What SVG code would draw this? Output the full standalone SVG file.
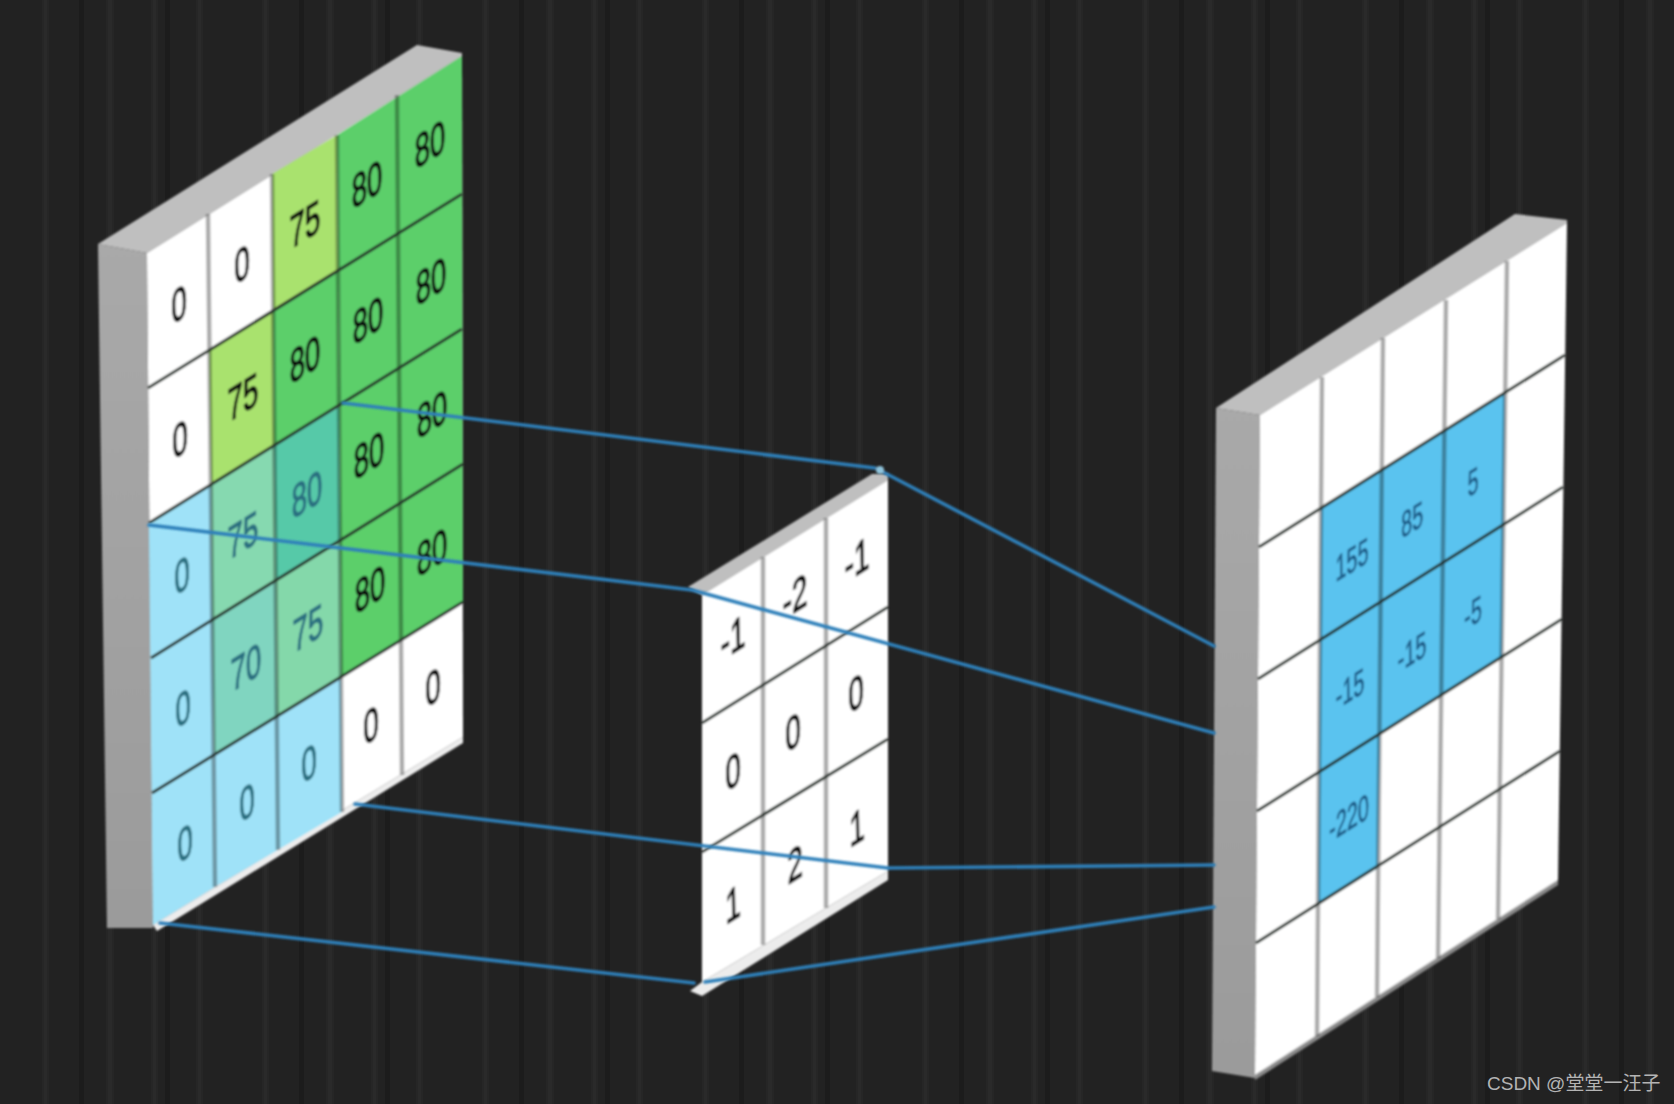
<svg xmlns="http://www.w3.org/2000/svg" width="1674" height="1104" viewBox="0 0 1674 1104">
<style>
.side{fill:url(#sideShade)}.top{fill:#bfbfbf}.face{fill:#fff}
.lg{fill:#a9e26e}.g{fill:#5ccf6b}.b{fill:#9fe2f8}.t1{fill:#86d9b0}.t2{fill:#80d5c0}.t3{fill:#56c9a8}.t4{fill:#84d8aa}.o{fill:#5ac3ef}
.col{stroke:#000;stroke-opacity:.33;stroke-width:4.5;fill:none}
.row{stroke:#263029;stroke-width:3;fill:none}
text{font-family:"Liberation Sans",Arial,sans-serif;text-anchor:middle}
.n{font-size:46px;fill:#111;stroke:#111;stroke-width:1.5}
.m{font-size:46px;fill:#2a6f80;stroke:#2a6f80;stroke-width:1.2}
.s{font-size:36px;fill:#1e5c88;stroke:#1e5c88;stroke-width:.8}
.wm{font-size:19px;fill:#b4b4b4;text-anchor:start;font-family:"Liberation Sans","Noto Sans CJK SC",sans-serif}
.conn{stroke:#2f80ba;stroke-width:3.6;fill:none;stroke-linecap:round}
</style>
<defs>
<linearGradient id="sideShade" x1="0" y1="0" x2="0" y2="1"><stop offset="0" stop-color="#a9a9a9"/><stop offset="1" stop-color="#9b9b9b"/></linearGradient>
<pattern id="stripes" width="220" height="1104" patternUnits="userSpaceOnUse">
<rect width="220" height="1104" fill="#202020"/>
<rect x="43" width="5" height="1104" fill="#2a2a2a"/>
<rect x="107" width="6" height="1104" fill="#2c2c2c"/>
<rect x="152" width="5" height="1104" fill="#2c2c2c"/>
<rect x="197" width="5" height="1104" fill="#292929"/>
<rect x="79" width="5" height="1104" fill="#1a1a1a"/>
<rect x="165" width="5" height="1104" fill="#1a1a1a"/>
</pattern>
<filter id="soft" x="-5%" y="-5%" width="110%" height="110%"><feGaussianBlur stdDeviation="0.9"/></filter>
<filter id="haze" x="0" y="0" width="100%" height="100%"><feGaussianBlur stdDeviation="1.6"/></filter>
</defs>
<rect x="-10" y="-10" width="1694" height="1124" fill="url(#stripes)" filter="url(#haze)"/>

<g id="input-matrix" filter="url(#soft)">
<polygon class="side" points="98,244 147,253 153,928 107,928"/>
<polygon class="top" points="98,244 417,45 462,53 462,56 147,253"/>
<polygon points="153,925 463,737 463,743 157,931" fill="#ededed"/>
<polygon class="face" points="147,253 462,56 463,737 153,925"/>
<polygon class="lg" points="272,174 337,135 338,272 273,310"/>
<polygon class="lg" points="209,349 273,310 274,445 211,484"/>
<polygon class="g" points="337,135 462,56 463,602 341,678"/>
<polygon class="g" points="273,310 338,272 339,407 274,445"/>
<polygon class="b" points="149,523 211,484 215,887 153,925"/>
<polygon class="b" points="214,755 341,678 342,812 215,887"/>
<polygon class="t1" points="211,484 274,445 276,580 212,619"/>
<polygon class="t2" points="212,619 276,580 277,717 214,755"/>
<polygon class="t3" points="274,445 339,407 340,542 276,580"/>
<polygon class="t4" points="276,580 340,542 341,678 277,717"/>
<path class="col" d="M208,214L215,887M272,174L278,850M337,135L342,812M397,95L402,775"/>
<path class="row" d="M148,388L462,194M149,523L462,329M151,658L463,464M152,793L463,602"/>
<g class="n">
<text transform="matrix(.6 -.375 .02 1 179 304)" y="16">0</text>
<text transform="matrix(.6 -.375 .02 1 180 439)" y="16">0</text>
<text transform="matrix(.6 -.375 .02 1 242 264)" y="16">0</text>
<text transform="matrix(.6 -.375 .02 1 243 397)" y="16">75</text>
<text transform="matrix(.6 -.375 .02 1 305 224)" y="16">75</text>
<text transform="matrix(.6 -.375 .02 1 305 359)" y="16">80</text>
<text transform="matrix(.6 -.375 .02 1 367 184)" y="16">80</text>
<text transform="matrix(.6 -.375 .02 1 368 320)" y="16">80</text>
<text transform="matrix(.6 -.375 .02 1 369 455)" y="16">80</text>
<text transform="matrix(.6 -.375 .02 1 370 589)" y="16">80</text>
<text transform="matrix(.6 -.375 .02 1 371 725)" y="16">0</text>
<text transform="matrix(.6 -.375 .02 1 430 144)" y="16">80</text>
<text transform="matrix(.6 -.375 .02 1 431 281)" y="16">80</text>
<text transform="matrix(.6 -.375 .02 1 432 414)" y="16">80</text>
<text transform="matrix(.6 -.375 .02 1 432 552)" y="16">80</text>
<text transform="matrix(.6 -.375 .02 1 433 687)" y="16">0</text>
</g>
<g class="m">
<text transform="matrix(.6 -.375 .02 1 182 575)" y="16">0</text>
<text transform="matrix(.6 -.375 .02 1 183 708)" y="16">0</text>
<text transform="matrix(.6 -.375 .02 1 185 843)" y="16">0</text>
<text transform="matrix(.6 -.375 .02 1 243 535)" y="16">75</text>
<text transform="matrix(.6 -.375 .02 1 246 667)" y="16">70</text>
<text transform="matrix(.6 -.375 .02 1 247 802)" y="16">0</text>
<text transform="matrix(.6 -.375 .02 1 307 494)" y="16">80</text>
<text transform="matrix(.6 -.375 .02 1 308 628)" y="16">75</text>
<text transform="matrix(.6 -.375 .02 1 309 763)" y="16">0</text>
</g>
</g>

<g id="kernel" filter="url(#soft)">
<polygon class="top" points="688,587 872,474 888,474 888,480 702,595"/>
<polygon points="702,982 888,871 888,880 702,996 690,991" fill="#ececec"/>
<polygon class="face" points="702,595 888,480 888,871 702,982"/>
<path class="col" d="M763,557L763,945M826,518L826,908"/>
<path class="row" d="M702,723L888,607M702,852L888,739"/>
<g class="n">
<text transform="matrix(.6 -.375 .02 1 733 637)" y="16">-1</text>
<text transform="matrix(.6 -.375 .02 1 795 596)" y="16">-2</text>
<text transform="matrix(.6 -.375 .02 1 857 559)" y="16">-1</text>
<text transform="matrix(.6 -.375 .02 1 733 771)" y="16">0</text>
<text transform="matrix(.6 -.375 .02 1 793 732)" y="16">0</text>
<text transform="matrix(.6 -.375 .02 1 856 693)" y="16">0</text>
<text transform="matrix(.6 -.375 .02 1 733 904)" y="16">1</text>
<text transform="matrix(.6 -.375 .02 1 795 864)" y="16">2</text>
<text transform="matrix(.6 -.375 .02 1 857 827)" y="16">1</text>
</g>
</g>

<g id="output-matrix" filter="url(#soft)">
<polygon class="side" points="1216,408 1260,415 1255,1078 1212,1071"/>
<polygon class="top" points="1216,408 1515,214 1567,220 1567,223 1260,415"/>
<polygon points="1255,1075 1558,880 1558,885 1255,1080" fill="#8a8a8a"/>
<polygon class="face" points="1260,415 1567,223 1558,880 1255,1075"/>
<polygon class="o" points="1321,509 1505,393 1502,657 1380,734 1378,868 1318,905"/>
<path class="col" d="M1322,377L1317,1036M1383,338L1377,997M1446,300L1438,958M1507,261L1498,919"/>
<path class="row" d="M1259,547L1565,355M1258,679L1563,487M1257,811L1562,619M1256,943L1560,751"/>
<g class="s">
<text transform="matrix(.55 -.34 .01 1 1352 559)" y="13">155</text>
<text transform="matrix(.55 -.34 .01 1 1412 519)" y="13">85</text>
<text transform="matrix(.55 -.34 .01 1 1473 481)" y="13">5</text>
<text transform="matrix(.55 -.34 .01 1 1350 688)" y="13">-15</text>
<text transform="matrix(.55 -.34 .01 1 1412 651)" y="13">-15</text>
<text transform="matrix(.55 -.34 .01 1 1473 612)" y="13">-5</text>
<text transform="matrix(.55 -.34 .01 1 1349 817)" y="13">-220</text>
</g>
</g>

<g id="connectors" filter="url(#soft)">
<path class="conn" d="M343,403L875,468"/>
<path class="conn" d="M883,472L1214,646"/>
<path class="conn" d="M149,525L692,590"/>
<path class="conn" d="M692,590L1214,733"/>
<path class="conn" d="M355,804L888,868"/>
<path class="conn" d="M888,868L1214,865"/>
<path class="conn" d="M160,923L694,983"/>
<path class="conn" d="M705,982L1214,907"/>
<circle cx="880" cy="470" r="4" fill="#8fc4dc"/>
</g>

<text class="wm" x="1487" y="1090">CSDN @堂堂一汪子</text>
</svg>
